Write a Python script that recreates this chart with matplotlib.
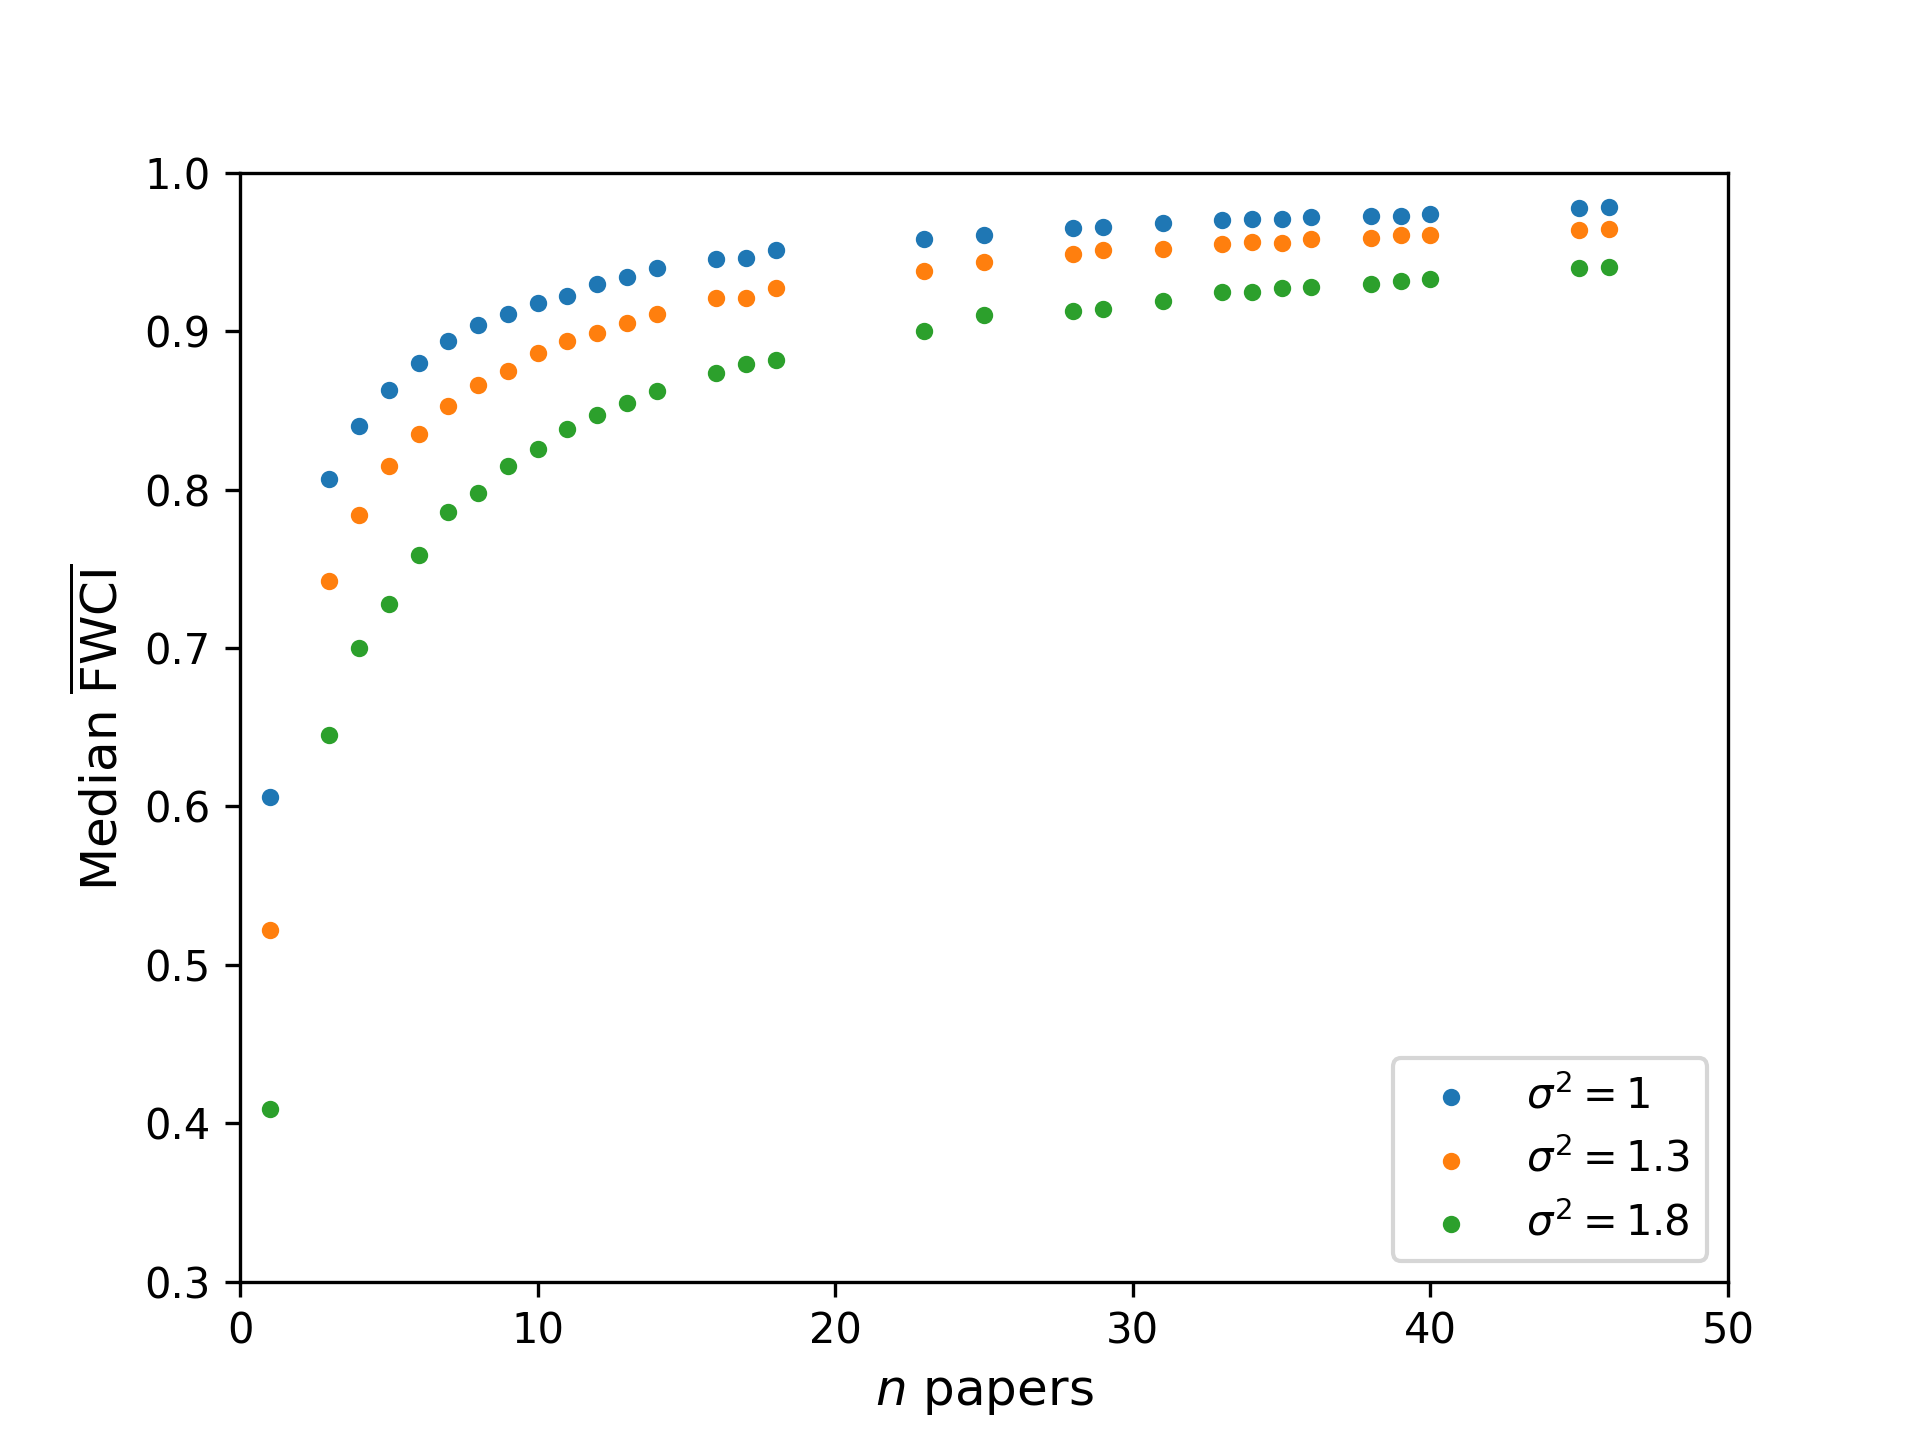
import numpy as np
import matplotlib
matplotlib.use('Agg')
import matplotlib.pyplot as plt

# number of papers
n_papers = [1, 3, 4, 5, 6, 7, 8, 9, 10, 11, 12, 13, 14, 16, 17, 18,
            23, 25, 28, 29, 31, 33, 34, 35, 36, 38, 39, 40, 45, 46]

# median of the mean FWCI, one list per sigma^2
med_s1 = [0.606, 0.807, 0.840, 0.863, 0.880, 0.894, 0.904, 0.911, 0.918, 0.922,
          0.930, 0.934, 0.940, 0.9455, 0.946, 0.951,
          0.958, 0.961, 0.965, 0.966, 0.968, 0.970, 0.971, 0.971, 0.972,
          0.9727, 0.973, 0.974, 0.9776, 0.9784]
med_s13 = [0.522, 0.742, 0.784, 0.815, 0.835, 0.853, 0.866, 0.875, 0.886, 0.894,
           0.899, 0.905, 0.911, 0.921, 0.921, 0.927,
           0.938, 0.944, 0.9485, 0.951, 0.952, 0.955, 0.956, 0.9555, 0.958,
           0.9586, 0.9605, 0.961, 0.9637, 0.9645]
med_s18 = [0.409, 0.645, 0.700, 0.728, 0.759, 0.786, 0.798, 0.815, 0.8255, 0.838,
           0.847, 0.8545, 0.862, 0.8734, 0.879, 0.8816,
           0.900, 0.910, 0.913, 0.914, 0.919, 0.925, 0.9245, 0.927, 0.928,
           0.9296, 0.9315, 0.9327, 0.940, 0.9408]

labels = [r'$\sigma^2 = 1$', r'$\sigma^2 = 1.3$', r'$\sigma^2 = 1.8$']

fig = plt.figure(figsize=(6.4, 4.8), dpi=300)
ax = fig.add_subplot(111)

for vals, lab in zip([med_s1, med_s13, med_s18], labels):
    ax.scatter(n_papers, vals, s=10, label=lab)

ax.set_xlim(0, 50)
ax.set_ylim(0.3, 1.0)
ax.set_xlabel(r'$n$ papers', fontsize=12)
ax.set_ylabel(r'Median $\overline{\mathrm{FWCI}}$', fontsize=12)
ax.legend(loc='lower right')

fig.savefig('out.png', dpi=300)
